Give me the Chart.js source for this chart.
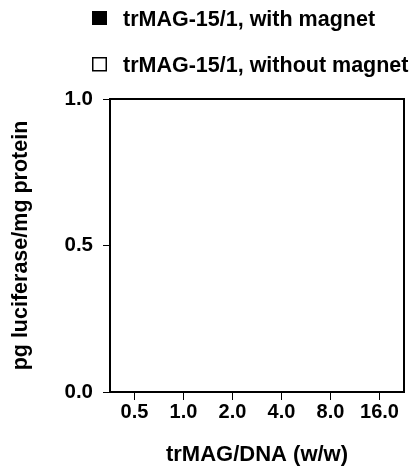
<!DOCTYPE html>
<html>
<head>
<meta charset="utf-8">
<script src="https://cdn.jsdelivr.net/npm/chart.js@4/dist/chart.umd.min.js"></script>
<style>
  html, body { margin: 0; padding: 0; background: #fff; }
  #wrap { position: relative; width: 411px; height: 468px; }
</style>
</head>
<body>
<div id="wrap"><canvas id="c" width="411" height="468"></canvas></div>
<script>
const categories = ['0.5', '1.0', '2.0', '4.0', '8.0', '16.0'];
const seriesNames = ['trMAG-15/1, with magnet', 'trMAG-15/1, without magnet'];
const withMagnet = [0, 0, 0, 0, 0, 0];
const withoutMagnet = [0, 0, 0, 0, 0, 0];
const yTickValues = [0, 0.5, 1.0];
const xTitle = 'trMAG/DNA (w/w)';
const yTitle = 'pg luciferase/mg protein';

const FAMILY = "'Liberation Sans', Arial, sans-serif";
const font = (size) => ({ family: FAMILY, size: size, weight: 'bold' });

const framePlugin = {
  id: 'frame',
  afterDraw(chart) {
    const { ctx, chartArea: a } = chart;
    ctx.save();
    ctx.strokeStyle = '#000';
    ctx.lineWidth = 2;
    ctx.beginPath();
    ctx.moveTo(a.left, a.top);
    ctx.lineTo(a.right, a.top);
    ctx.lineTo(a.right, a.bottom);
    ctx.stroke();
    ctx.restore();
  }
};

const legendPlugin = {
  id: 'customLegend',
  afterDraw(chart) {
    const { ctx } = chart;
    const rows = [19, 65];
    ctx.save();
    ctx.font = `bold 21.5px ${FAMILY}`;
    ctx.textBaseline = 'middle';
    ctx.textAlign = 'left';
    chart.data.datasets.forEach((ds, i) => {
      const y = rows[i];
      if (ds.backgroundColor === '#000000') {
        ctx.fillStyle = '#000';
        ctx.fillRect(92, y - 8, 15, 14);
      } else {
        ctx.fillStyle = '#fff';
        ctx.fillRect(92, y - 8, 14, 14);
        ctx.strokeStyle = '#000';
        ctx.lineWidth = 1.5;
        ctx.strokeRect(92.75, y - 7.25, 13.5, 13);
      }
      ctx.fillStyle = '#000';
      ctx.fillText(ds.label, 123, y + 1);
    });
    ctx.restore();
  }
};

new Chart(document.getElementById('c'), {
  type: 'bar',
  data: {
    labels: categories,
    datasets: [
      { label: seriesNames[0], data: withMagnet, backgroundColor: '#000000', borderColor: '#000', borderWidth: 1 },
      { label: seriesNames[1], data: withoutMagnet, backgroundColor: '#ffffff', borderColor: '#000', borderWidth: 1 }
    ]
  },
  options: {
    responsive: false,
    animation: false,
    layout: { padding: { top: 99, right: 7, left: 0, bottom: 0 } },
    plugins: { legend: { display: false }, tooltip: { enabled: false } },
    scales: {
      x: {
        offset: true,
        grid: { display: true, drawOnChartArea: false, offset: false, tickLength: 8, color: '#000', lineWidth: 1 },
        border: { display: true, color: '#000', width: 2 },
        ticks: { color: '#000', font: font(20), padding: 0, maxRotation: 0, autoSkip: false },
        title: { display: true, text: xTitle, color: '#000', font: font(22), padding: { top: 0, bottom: 0 } },
        afterFit(scale) { scale.height = 76; }
      },
      y: {
        min: 0,
        max: 1,
        grid: { display: true, drawOnChartArea: false, tickLength: 7, color: '#000', lineWidth: 1 },
        border: { display: true, color: '#000', width: 2 },
        ticks: { color: '#000', font: font(20.5), padding: 10, callback: (v) => Number(v).toFixed(1) },
        afterBuildTicks(scale) { scale.ticks = yTickValues.map(v => ({ value: v })); },
        title: { display: true, text: yTitle, color: '#000', font: font(21.5), padding: { top: 8, bottom: 0 } },
        afterFit(scale) { scale.width = 110; }
      }
    }
  },
  plugins: [framePlugin, legendPlugin]
});
</script>
</body>
</html>
